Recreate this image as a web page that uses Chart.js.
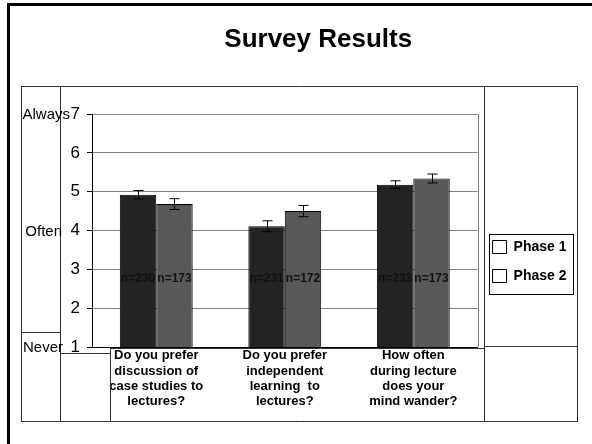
<!DOCTYPE html>
<html>
<head>
<meta charset="utf-8">
<script src="https://cdn.jsdelivr.net/npm/chart.js@4/dist/chart.umd.min.js"></script>
<style>
  body { margin: 0; background: #fff; }
  #survey-chart { display: block; }
</style>
</head>
<body>
<canvas id="survey-chart" width="592" height="444"></canvas>
<script>
// survey data
const categories = [
  ['Do you prefer', 'discussion of', 'case studies to', 'lectures?'],
  ['Do you prefer', 'independent', 'learning  to', 'lectures?'],
  ['How often', 'during lecture', 'does your', 'mind wander?']
];
const seriesNames = ['Phase 1', 'Phase 2'];
const phase1 = [4.92, 4.11, 5.18];
const phase2 = [4.68, 4.50, 5.34];
const phase1Err = [0.11, 0.14, 0.10];
const phase2Err = [0.14, 0.145, 0.115];
const phase1N = [230, 231, 233];
const phase2N = [173, 172, 173];
const yTicks = [1, 2, 3, 4, 5, 6, 7];
const anchorLabels = [[7, 'Always'], [4, 'Often'], [1, 'Never']];

document.addEventListener('DOMContentLoaded', () => {
  Chart.defaults.font.family = '"Liberation Sans", Arial, sans-serif';
  Chart.defaults.color = '#000';

  const errors = [phase1Err, phase2Err];
  const counts = [phase1N, phase2N];

  function line(ctx, x1, y1, x2, y2) {
    ctx.beginPath();
    ctx.moveTo(x1, y1);
    ctx.lineTo(x2, y2);
    ctx.stroke();
  }

  const extras = {
    id: 'extras',
    afterLayout(chart) {
      // legend sits a bit lower than centred
      chart.legend.top += 31;
      chart.legend.bottom += 31;
    },
    beforeDraw(chart) {
      const ctx = chart.ctx;
      ctx.save();
      ctx.fillStyle = '#fff';
      ctx.fillRect(0, 0, chart.width, chart.height);
      ctx.restore();
    },
    afterDatasetsDraw(chart) {
      const ctx = chart.ctx;
      const y = chart.scales.y;
      ctx.save();
      ctx.strokeStyle = '#000';
      ctx.lineWidth = 1;
      chart.data.datasets.forEach((ds, di) => {
        chart.getDatasetMeta(di).data.forEach((bar, i) => {
          const v = ds.data[i];
          const top = y.getPixelForValue(v + errors[di][i]);
          const bot = y.getPixelForValue(v - errors[di][i]);
          const x = Math.round(bar.x) + 0.5;
          line(ctx, x, top, x, bot);
          line(ctx, x - 5, top, x + 5, top);
          line(ctx, x - 5, bot, x + 5, bot);
          ctx.fillStyle = '#111';
          ctx.font = 'bold 12px "Liberation Sans", Arial, sans-serif';
          ctx.textAlign = 'center';
          ctx.textBaseline = 'middle';
          ctx.fillText('n=' + counts[di][i], bar.x, y.getPixelForValue(2.77));
        });
      });
      ctx.restore();
    },
    afterDraw(chart) {
      const ctx = chart.ctx;
      const a = chart.chartArea;
      const y = chart.scales.y;
      ctx.save();
      // outer frame
      ctx.strokeStyle = '#000';
      ctx.lineWidth = 3;
      ctx.strokeRect(8.5, 4.5, 700, 600);
      // table-like boxes round the chart
      ctx.lineWidth = 1;
      ctx.strokeStyle = '#333';
      line(ctx, 21, 86.5, 578, 86.5);
      line(ctx, 21, 421.5, 578, 421.5);
      [21.5, 60.5, 484.5, 577.5].forEach(x => line(ctx, x, 86, x, 422));
      line(ctx, 21, 332.5, 60.5, 332.5);
      line(ctx, 60.5, 353.5, 110, 353.5);
      line(ctx, 110.5, 348, 110.5, 422);
      line(ctx, 110, 348.5, 484.5, 348.5);
      line(ctx, 484.5, 346.5, 578, 346.5);
      // legend frame
      ctx.strokeStyle = '#000';
      ctx.strokeRect(489.5, 234.5, 84, 60);
      // plot right edge
      ctx.strokeStyle = '#808080';
      line(ctx, Math.round(a.right) + 0.5, a.top, Math.round(a.right) + 0.5, a.bottom);
      // scale words
      ctx.fillStyle = '#000';
      ctx.font = '15px "Liberation Sans", Arial, sans-serif';
      ctx.textAlign = 'right';
      ctx.textBaseline = 'middle';
      const rightEdge = { Always: 70, Often: 62, Never: 63 };
      anchorLabels.forEach(([v, txt]) => {
        ctx.fillText(txt, rightEdge[txt], y.getPixelForValue(v) + 1);
      });
      ctx.restore();
    }
  };

  const ctx = document.getElementById('survey-chart').getContext('2d');
  const surveyChart = new Chart(ctx, {
    type: 'bar',
    data: {
      labels: categories,
      datasets: [{
        label: seriesNames[0],
        data: phase1,
        backgroundColor: '#232323',
        borderColor: '#000',
        borderWidth: 1
      }, {
        label: seriesNames[1],
        data: phase2,
        backgroundColor: '#585858',
        borderColor: '#000',
        borderWidth: 1
      }]
    },
    options: {
      responsive: false,
      animation: false,
      devicePixelRatio: 1,
      layout: { padding: { left: 60, right: 15.5, top: 0, bottom: 22 } },
      datasets: { bar: { barPercentage: 1, categoryPercentage: 0.567 } },
      scales: {
        x: {
          grid: { display: false, drawTicks: false },
          border: { color: '#000' },
          ticks: {
            padding: 1,
            maxRotation: 0,
            autoSkip: false,
            font: { size: 13, weight: 'bold', lineHeight: 1.18 }
          },
          afterFit: s => { s.height = 75; }
        },
        y: {
          min: 1,
          max: 7,
          afterBuildTicks: s => { s.ticks = yTicks.map(v => ({ value: v })); },
          grid: { color: '#808080', tickColor: '#000', tickLength: 5 },
          border: { color: '#000' },
          ticks: { padding: 7, font: { size: 17 } },
          afterFit: s => { s.width = 32; }
        }
      },
      plugins: {
        title: {
          display: true,
          text: 'Survey Results',
          font: { size: 26, weight: 'bold' },
          padding: { top: 24.4, bottom: 58.4 }
        },
        legend: {
          position: 'right',
          fullSize: false,
          labels: {
            boxWidth: 14,
            boxHeight: 13,
            padding: 15,
            font: { size: 14, weight: 'bold' },
            generateLabels: chart =>
              Chart.defaults.plugins.legend.labels.generateLabels(chart).map(l =>
                Object.assign(l, { fillStyle: '#fff', strokeStyle: '#000', lineWidth: 1 }))
          }
        },
        tooltip: { enabled: false }
      }
    },
    plugins: [extras]
  });
});
</script>
</body>
</html>
